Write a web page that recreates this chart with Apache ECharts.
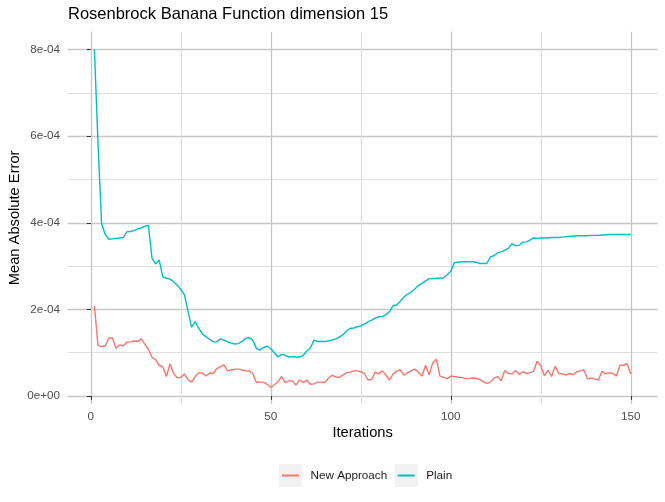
<!DOCTYPE html>
<html>
<head>
<meta charset="utf-8">
<script src="https://cdn.jsdelivr.net/npm/echarts@6/dist/echarts.min.js"></script>
<style>
  html, body { margin: 0; padding: 0; background: #fff; }
  #chart { width: 665px; height: 502px; }
</style>
</head>
<body>
<div id="chart"></div>
<script>
// values, in units of 1e-5
const iterations = Array.from({ length: 150 }, (_, i) => i + 1);

const newApproach = [
  20.8, 11.7, 11.4, 11.6, 13.4, 13.4, 11.0, 11.8, 11.6, 12.4,
  12.5, 12.7, 12.6, 13.2, 12.0, 10.8, 8.9, 8.4, 7.1, 6.7,
  4.5, 7.4, 5.2, 4.2, 4.3, 5.1, 3.8, 3.2, 4.5, 5.4,
  5.3, 4.6, 5.3, 5.2, 6.3, 6.8, 7.2, 5.8, 6.0, 6.2,
  6.2, 6.0, 5.8, 5.8, 5.2, 3.1, 3.2, 3.2, 2.7, 2.0,
  2.6, 3.3, 4.5, 3.1, 3.5, 3.5, 2.5, 3.7, 3.1, 3.7,
  2.7, 2.8, 3.2, 3.2, 3.1, 4.1, 4.8, 4.4, 4.3, 4.8,
  5.4, 5.5, 5.8, 5.8, 5.6, 5.2, 3.7, 3.8, 5.5, 5.1,
  5.8, 4.8, 3.7, 5.1, 5.8, 6.0, 4.8, 5.4, 5.8, 6.2,
  5.5, 4.6, 7.1, 4.9, 7.7, 8.5, 4.6, 4.3, 4.0, 4.6,
  4.5, 4.3, 4.3, 4.0, 4.0, 4.2, 4.1, 3.8, 3.3, 2.9,
  3.2, 4.1, 4.5, 3.5, 5.9, 5.2, 5.1, 5.9, 5.0, 5.6,
  5.2, 5.4, 5.7, 8.0, 7.0, 4.7, 6.0, 4.5, 6.9, 5.2,
  5.1, 4.8, 5.2, 4.9, 5.6, 5.8, 6.0, 3.9, 4.2, 3.9,
  3.7, 5.7, 5.1, 5.4, 5.2, 4.6, 7.1, 7.1, 7.5, 5.1
];

const plain = [
  80.0, 58.2, 39.8, 37.3, 36.2, 36.3, 36.4, 36.5, 36.6, 37.9,
  38.0, 38.2, 38.6, 38.8, 39.2, 39.4, 31.8, 30.5, 31.4, 27.5,
  27.2, 27.0, 26.4, 25.6, 24.6, 23.4, 19.6, 15.9, 17.2, 15.6,
  14.3, 13.7, 13.1, 12.5, 12.5, 13.2, 12.9, 12.5, 12.2, 12.0,
  12.1, 12.6, 13.3, 13.5, 12.9, 11.0, 10.6, 11.2, 11.5, 10.9,
  10.0, 9.0, 9.6, 9.4, 9.0, 9.1, 9.0, 9.0, 9.4, 10.4,
  11.1, 12.9, 12.6, 12.6, 12.6, 12.7, 12.9, 13.2, 13.6, 14.1,
  15.0, 15.6, 15.7, 16.0, 16.2, 16.6, 17.1, 17.5, 18.0, 18.3,
  18.4, 18.8, 19.5, 20.9, 21.0, 21.9, 22.9, 23.5, 24.0, 24.7,
  25.5, 26.0, 26.6, 27.1, 27.1, 27.2, 27.2, 27.3, 28.0, 28.8,
  30.8, 30.9, 31.0, 31.0, 31.0, 31.0, 30.9, 30.6, 30.6, 30.6,
  32.1, 32.4, 33.1, 33.3, 33.7, 34.1, 35.2, 34.7, 34.8, 35.5,
  35.6, 36.0, 36.5, 36.4, 36.5, 36.5, 36.5, 36.6, 36.6, 36.6,
  36.7, 36.8, 36.9, 36.9, 37.0, 37.0, 37.0, 37.0, 37.1, 37.1,
  37.1, 37.2, 37.2, 37.3, 37.3, 37.3, 37.3, 37.3, 37.3, 37.3
];

const xTicks = [0, 50, 100, 150];
const xTickLabels = ['0', '50', '100', '150'];
const yTicks = [0, 2e-4, 4e-4, 6e-4, 8e-4];
const yTickLabels = ['0e+00', '2e-04', '4e-04', '6e-04', '8e-04'];
const seriesNames = ['New Approach', 'Plain'];

const COLORS = {
  newApproach: '#F8766D',
  plain: '#00BFC4',
  gridMajor: '#c6c6c6',
  gridMinor: '#dedede',
  tickText: '#4D4D4D',
  keyBg: '#f2f2f2',
};
const FONT = 'Liberation Sans';

function toPairs(values) {
  return values.map((v, i) => [iterations[i], v * 1e-5]);
}

function labelFor(ticks, labels) {
  return v => {
    const k = ticks.findIndex(t => Math.abs(t - v) < 1e-9 * (1 + Math.abs(t)));
    return k >= 0 ? labels[k] : '';
  };
}

const chart = echarts.init(document.getElementById('chart'), null, { renderer: 'canvas' });

const legendBase = {
  orient: 'horizontal',
  top: 459,
  left: 274,
  itemWidth: 23,
  itemHeight: 23,
  itemGap: 7.5,
  icon: 'rect',
  selectedMode: false,
  data: seriesNames,
  textStyle: { fontFamily: FONT, fontSize: 11.7, color: '#1a1a1a', padding: [0, 0, 0, 3.5] },
};

const option = {
  animation: false,
  textStyle: { fontFamily: FONT },
  title: {
    text: 'Rosenbrock Banana Function dimension 15',
    left: 63,
    top: 1,
    textStyle: { fontFamily: FONT, fontSize: 16.5, fontWeight: 'normal', color: '#000' },
  },
  legend: [
    // grey key boxes + labels
    Object.assign({}, legendBase, {
      itemStyle: { color: COLORS.keyBg, borderWidth: 0 },
    }),
    // coloured key lines drawn on top of the boxes
    Object.assign({}, legendBase, {
      left: 277,
      top: 464.5,
      itemWidth: 17,
      itemHeight: 2,
      itemGap: 13.5,
      itemStyle: { borderWidth: 0 },
      textStyle: { fontFamily: FONT, fontSize: 11.7, color: 'rgba(0,0,0,0)', padding: [0, 0, 0, 3.5] },
    }),
  ],
  grid: { left: 67.6, right: 7.4, top: 31.7, bottom: 98, containLabel: false, outerBoundsMode: 'none' },
  xAxis: {
    type: 'value',
    min: -6.45,
    max: 157.45,
    minInterval: 50,
    maxInterval: 50,
    name: 'Iterations',
    nameLocation: 'middle',
    nameGap: 21,
    nameMoveOverlap: false,
    nameTextStyle: { fontFamily: FONT, fontSize: 14.7, color: '#000' },
    axisLine: { show: false },
    axisTick: { show: true, length: 4, customValues: xTicks, lineStyle: { color: '#333', width: 1 } },
    axisLabel: {
      customValues: xTicks, margin: 7, fontSize: 11.7, color: COLORS.tickText,
      formatter: labelFor(xTicks, xTickLabels),
    },
    splitLine: { show: true, lineStyle: { color: COLORS.gridMajor, width: 1.3 } },
    minorTick: { show: false, splitNumber: 2 },
    minorSplitLine: { show: true, lineStyle: { color: COLORS.gridMinor, width: 1 } },
  },
  yAxis: {
    type: 'value',
    min: -1.85e-5,
    max: 8.414e-4,
    minInterval: 2e-4,
    maxInterval: 2e-4,
    name: 'Mean Absolute Error',
    nameLocation: 'middle',
    nameGap: 45,
    nameMoveOverlap: false,
    nameTextStyle: { fontFamily: FONT, fontSize: 14.7, color: '#000' },
    axisLine: { show: false },
    axisTick: { show: true, length: 4, customValues: yTicks, lineStyle: { color: '#333', width: 1 } },
    axisLabel: {
      customValues: yTicks, margin: 7.5, fontSize: 11.7, color: COLORS.tickText,
      formatter: labelFor(yTicks, yTickLabels),
    },
    splitLine: { show: true, lineStyle: { color: COLORS.gridMajor, width: 1.3 } },
    minorTick: { show: false, splitNumber: 2 },
    minorSplitLine: { show: true, lineStyle: { color: COLORS.gridMinor, width: 1 } },
  },
  series: [
    {
      name: seriesNames[0],
      type: 'line',
      data: toPairs(newApproach),
      symbol: 'none',
      color: COLORS.newApproach,
      lineStyle: { width: 1.4, color: COLORS.newApproach },
      z: 3,
    },
    {
      name: seriesNames[1],
      type: 'line',
      data: toPairs(plain),
      symbol: 'none',
      color: COLORS.plain,
      lineStyle: { width: 1.4, color: COLORS.plain },
      z: 3,
    },
  ],
};

chart.setOption(option);
</script>
</body>
</html>
